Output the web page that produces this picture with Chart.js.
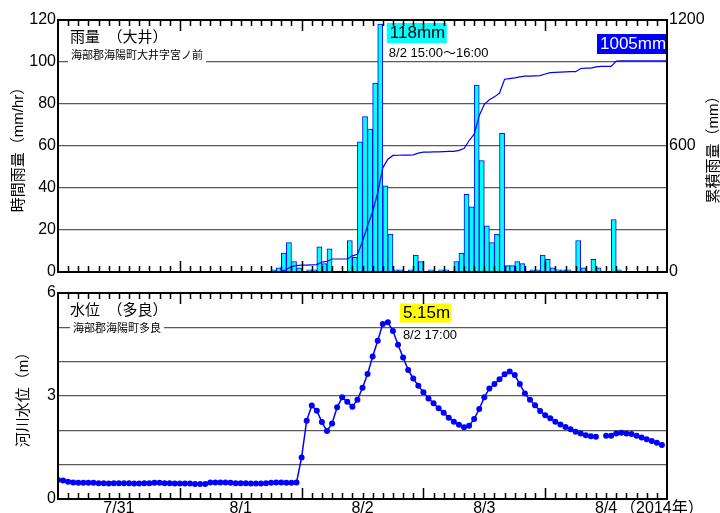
<!DOCTYPE html>
<html>
<head>
<meta charset="utf-8">
<script src="https://cdn.jsdelivr.net/npm/chart.js@4"></script>
<style>
html, body { margin: 0; padding: 0; background: #fff; overflow: hidden; width: 720px; height: 513px; }
canvas { position: absolute; left: 0; }
#rainChart { top: 0; }
#levelChart { top: 280px; }
</style>
</head>
<body>
<canvas id="rainChart" width="720" height="286"></canvas>
<canvas id="levelChart" width="720" height="240"></canvas>
<script>
// x axis = hours from 7/31 0:00, 5 days
var dayLabels = ["7/31", "8/1", "8/2", "8/3", "8/4"];
var yearLabel = "（2014年）";

// hourly rain (mm/hr), index i = hour i..i+1
var rainHourly = [
	0,0,0,0,0,0,0,0,0,0,0,0,0,0,0,0,0,0,0,0,0,0,0,0,
	0,0,0,0,0,0,0,0,0,0,0,0,0,0,0,0,0,0,1,2,9,14,5,2,
	0,1,1,12,4,11,0,0,0,15,7,62,74,68,90,118,41,18,1,1,0,1,8,5,
	0,1,0,1,1,0,5,9,37,31,89,53,22,14,18,66,3,3,5,4,0,1,1,8,
	6,2,1,1,1,0,15,2,0,6,2,0,0,25,1,0,0,0,0,0,0,0,0,0
];

// cumulative rain (mm) at each hour mark 0..120
var rainTotal = [
	0,0,0,0,0,0,0,0,0,0,0,0,0,0,0,0,0,0,0,0,0,0,0,0,
	0,0,0,0,0,0,0,0,0,0,0,0,0,0,0,0,0,0,0,1,3,12,26,31,
	33,33,34,35,47,51,62,62,62,62,77,84,146,220,288,378,496,537,555,556,557,557,558,566,
	571,571,572,572,573,574,574,579,588,625,656,745,798,820,834,852,918,921,924,929,933,933,934,935,
	943,949,951,952,953,954,954,969,971,971,977,979,979,979,1004,1005,1005,1005,1005,1005,1005,1005,1005,1005,
	1005
];

// water level (m), hourly from 7/31 0:00
var waterLevel = [
	0.55,0.54,0.50,0.48,0.47,0.47,0.47,0.47,0.46,0.46,0.45,0.46,0.46,0.46,0.46,0.45,0.45,0.46,0.46,0.47,0.47,0.46,0.46,0.45,
	0.45,0.45,0.45,0.44,0.44,0.44,0.48,0.48,0.48,0.48,0.47,0.46,0.46,0.46,0.45,0.45,0.45,0.46,0.47,0.48,0.48,0.47,0.47,0.48,
	1.21,2.28,2.72,2.57,2.24,1.98,2.20,2.67,2.96,2.83,2.69,2.89,3.24,3.64,4.15,4.61,5.10,5.15,4.89,4.49,4.12,3.76,3.51,3.30,
	3.11,2.93,2.79,2.64,2.51,2.37,2.25,2.16,2.09,2.13,2.33,2.62,2.96,3.22,3.35,3.49,3.63,3.71,3.61,3.35,3.07,2.89,2.73,2.56,
	2.44,2.35,2.25,2.17,2.10,2.03,1.96,1.91,1.86,1.83,1.81,null,1.84,1.84,1.91,1.93,1.91,1.89,1.84,1.79,1.74,1.69,1.64,1.57
];

var rainTitle = "雨量　（大井）";
var rainPlace = "海部郡海陽町大井字宮ノ前";
var rainPeakTime = "8/2 15:00～16:00";
var levelTitle = "水位　（多良）";
var levelPlace = "海部郡海陽町多良";
var levelPeakTime = "8/2 17:00";

var BLUE = "#0000ff";
var SANS = "'Liberation Sans', 'Noto Sans CJK JP', sans-serif";

Chart.defaults.font.family = SANS;
Chart.defaults.color = "#000";

var deco = {
	// inward hour ticks on top and bottom edge + black frame
	frame: function(chart){
		var ctx = chart.ctx, a = chart.chartArea, xs = chart.scales.x;
		ctx.save();
		ctx.strokeStyle = "#000";
		ctx.lineWidth = 1.5;
		ctx.beginPath();
		for (var h = 2; h < 120; h += 2) {
			var px = Math.round(xs.getPixelForValue(h)) + 0.5;
			var len = (h % 24 === 0) ? 11 : 6;
			ctx.moveTo(px, a.top); ctx.lineTo(px, a.top + len);
			ctx.moveTo(px, a.bottom); ctx.lineTo(px, a.bottom - len);
		}
		ctx.stroke();
		ctx.lineWidth = 2;
		ctx.strokeRect(a.left, a.top, a.right - a.left, a.bottom - a.top);
		ctx.restore();
	},
	text: function(ctx, str, x, y, font, color, bg, padX, boxH, boxW){
		ctx.save();
		ctx.font = font;
		var w = boxW || (ctx.measureText(str).width + 2 * padX);
		if (bg) {
			ctx.fillStyle = bg;
			ctx.fillRect(x - padX, y - boxH / 2, w, boxH);
		}
		ctx.fillStyle = color;
		ctx.textAlign = "left";
		ctx.textBaseline = "middle";
		ctx.fillText(str, x, y);
		ctx.restore();
	},
	vtext: function(ctx, str, x, y, font){
		ctx.save();
		ctx.translate(x, y);
		ctx.rotate(-Math.PI / 2);
		ctx.font = font;
		ctx.fillStyle = "#000";
		ctx.textAlign = "center";
		ctx.textBaseline = "middle";
		ctx.fillText(str, 0, 0);
		ctx.restore();
	}
};

function hourPoints(arr, shift){
	return arr.map(function(v, i){ return { x: i + shift, y: v }; });
}

function edgeGrid(max){
	return function(c){
		if (!c.tick || c.tick.value === 0 || c.tick.value === max) return "rgba(0,0,0,0)";
		return "#5a5a5a";
	};
}

function plainTick(v){ return String(v); }

// ---------- rain ----------
var peakRain = Math.max.apply(null, rainHourly);
var peakHour = rainHourly.indexOf(peakRain);
var totalRain = rainTotal[rainTotal.length - 1];

new Chart(document.getElementById("rainChart"), {
	data: {
		datasets: [{
			type: "line",
			data: hourPoints(rainTotal, 0),
			yAxisID: "y2",
			borderColor: BLUE,
			borderWidth: 1.2,
			pointRadius: 0,
			tension: 0,
			order: 0
		}, {
			type: "bar",
			data: hourPoints(rainHourly, 0.5),
			yAxisID: "y",
			backgroundColor: "#00ffff",
			borderColor: BLUE,
			borderWidth: 1,
			barPercentage: 1,
			categoryPercentage: 1,
			order: 1
		}]
	},
	options: {
		responsive: false,
		animation: false,
		layout: { padding: { top: 20, bottom: 14, left: 0, right: 0 } },
		plugins: { legend: { display: false }, tooltip: { enabled: false } },
		scales: {
			x: {
				type: "linear", min: 0, max: 120, offset: false,
				afterFit: function(s){ s.height = 0; },
				ticks: { display: false },
				grid: { display: false, drawTicks: false },
				border: { display: false }
			},
			y: {
				position: "left", min: 0, max: 120,
				afterFit: function(s){ s.width = 58; },
				ticks: { stepSize: 10, padding: 2, font: { size: 16 },
					callback: function(v){ return v % 20 === 0 ? String(v) : ""; } },
				grid: { color: edgeGrid(120), lineWidth: 1.3, drawTicks: false },
				border: { display: false }
			},
			y2: {
				position: "right", min: 0, max: 1200,
				afterFit: function(s){ s.width = 53; },
				ticks: { stepSize: 600, padding: 2, font: { size: 16 }, callback: plainTick },
				grid: { display: false, drawTicks: false },
				border: { display: false }
			}
		}
	},
	plugins: [{
		id: "rainDeco",
		afterDatasetsDraw: function(chart){
			var ctx = chart.ctx, a = chart.chartArea, xs = chart.scales.x, ys = chart.scales.y;
			deco.text(ctx, rainTitle, a.left + 12, ys.getPixelForValue(110) - 3, "15px " + SANS, "#000", "#fff", 4, 16);
			deco.text(ctx, rainPlace, a.left + 13, ys.getPixelForValue(100) - 6, "11px " + SANS, "#000", "#fff", 3, 15);
			var xr = xs.getPixelForValue(peakHour + 1);
			deco.text(ctx, peakRain + "mm", xr + 7, a.top + 13, "17px " + SANS, "#000", "#00ffff", 3, 20, 60);
			deco.text(ctx, rainPeakTime, xr + 6, a.top + 33, "13px " + SANS, "#000", null, 0, 0);
			deco.text(ctx, totalRain + "mm", a.right - 67, a.top + 24, "17px " + SANS, "#fff", BLUE, 3, 20, 70);
		},
		afterDraw: function(chart){
			var a = chart.chartArea;
			deco.frame(chart);
			deco.vtext(chart.ctx, "時間雨量（mm/hr）", 18.5, (a.top + a.bottom) / 2, "15px " + SANS);
			deco.vtext(chart.ctx, "累積雨量（mm）", 714, (a.top + a.bottom) / 2, "15px " + SANS);
		}
	}]
});

// ---------- water level ----------
var peakLevel = Math.max.apply(null, waterLevel.filter(function(v){ return v !== null; }));
var peakLevelHour = waterLevel.indexOf(peakLevel);

new Chart(document.getElementById("levelChart"), {
	type: "line",
	data: {
		datasets: [{
			data: hourPoints(waterLevel, 0),
			borderColor: BLUE,
			borderWidth: 1.5,
			pointRadius: 3,
			pointBorderWidth: 0,
			pointBackgroundColor: BLUE,
			spanGaps: false,
			tension: 0
		}]
	},
	options: {
		responsive: false,
		animation: false,
		layout: { padding: { top: 13, bottom: 0, left: 0, right: 53 } },
		plugins: { legend: { display: false }, tooltip: { enabled: false } },
		scales: {
			x: {
				type: "linear", min: 0, max: 120, offset: false,
				afterFit: function(s){ s.height = 21; },
				afterBuildTicks: function(s){
					s.ticks = dayLabels.map(function(d, i){ return { value: 12 + 24 * i }; });
				},
				ticks: { autoSkip: false, maxRotation: 0, padding: 0, font: { size: 16 },
					callback: function(v, i){ return dayLabels[i]; } },
				grid: { display: false, drawTicks: false },
				border: { display: false }
			},
			y: {
				min: 0, max: 6,
				afterFit: function(s){ s.width = 58; },
				ticks: { stepSize: 1, padding: 2, font: { size: 16 },
					callback: function(v){ return v % 3 === 0 ? String(v) : ""; } },
				grid: { color: edgeGrid(6), lineWidth: 1.3, drawTicks: false },
				border: { display: false }
			}
		}
	},
	plugins: [{
		id: "levelDeco",
		afterDatasetsDraw: function(chart){
			var ctx = chart.ctx, a = chart.chartArea, xs = chart.scales.x, ys = chart.scales.y;
			deco.text(ctx, levelTitle, a.left + 12, a.top + 18, "15px " + SANS, "#000", null, 0, 0);
			deco.text(ctx, levelPlace, a.left + 15, ys.getPixelForValue(5) + 1.5, "11px " + SANS, "#000", "#fff", 3, 15);
			var xp = xs.getPixelForValue(peakLevelHour);
			deco.text(ctx, peakLevel.toFixed(2) + "m", xp + 15, a.top + 20, "17px " + SANS, "#000", "#ffff00", 3, 19, 51);
			deco.text(ctx, levelPeakTime, xp + 15, a.top + 42, "13px " + SANS, "#000", null, 0, 0);
		},
		afterDraw: function(chart){
			var ctx = chart.ctx, a = chart.chartArea, xs = chart.scales.x;
			deco.frame(chart);
			deco.vtext(ctx, "河川水位（m）", 23.5, (a.top + a.bottom) / 2, "15px " + SANS);
			ctx.save();
			ctx.font = "16px " + SANS;
			ctx.fillStyle = "#000";
			ctx.textAlign = "left";
			ctx.textBaseline = "middle";
			ctx.fillText(yearLabel, xs.getPixelForValue(108) + 14, a.bottom + 9.6);
			ctx.restore();
		}
	}]
});
</script>
</body>
</html>
